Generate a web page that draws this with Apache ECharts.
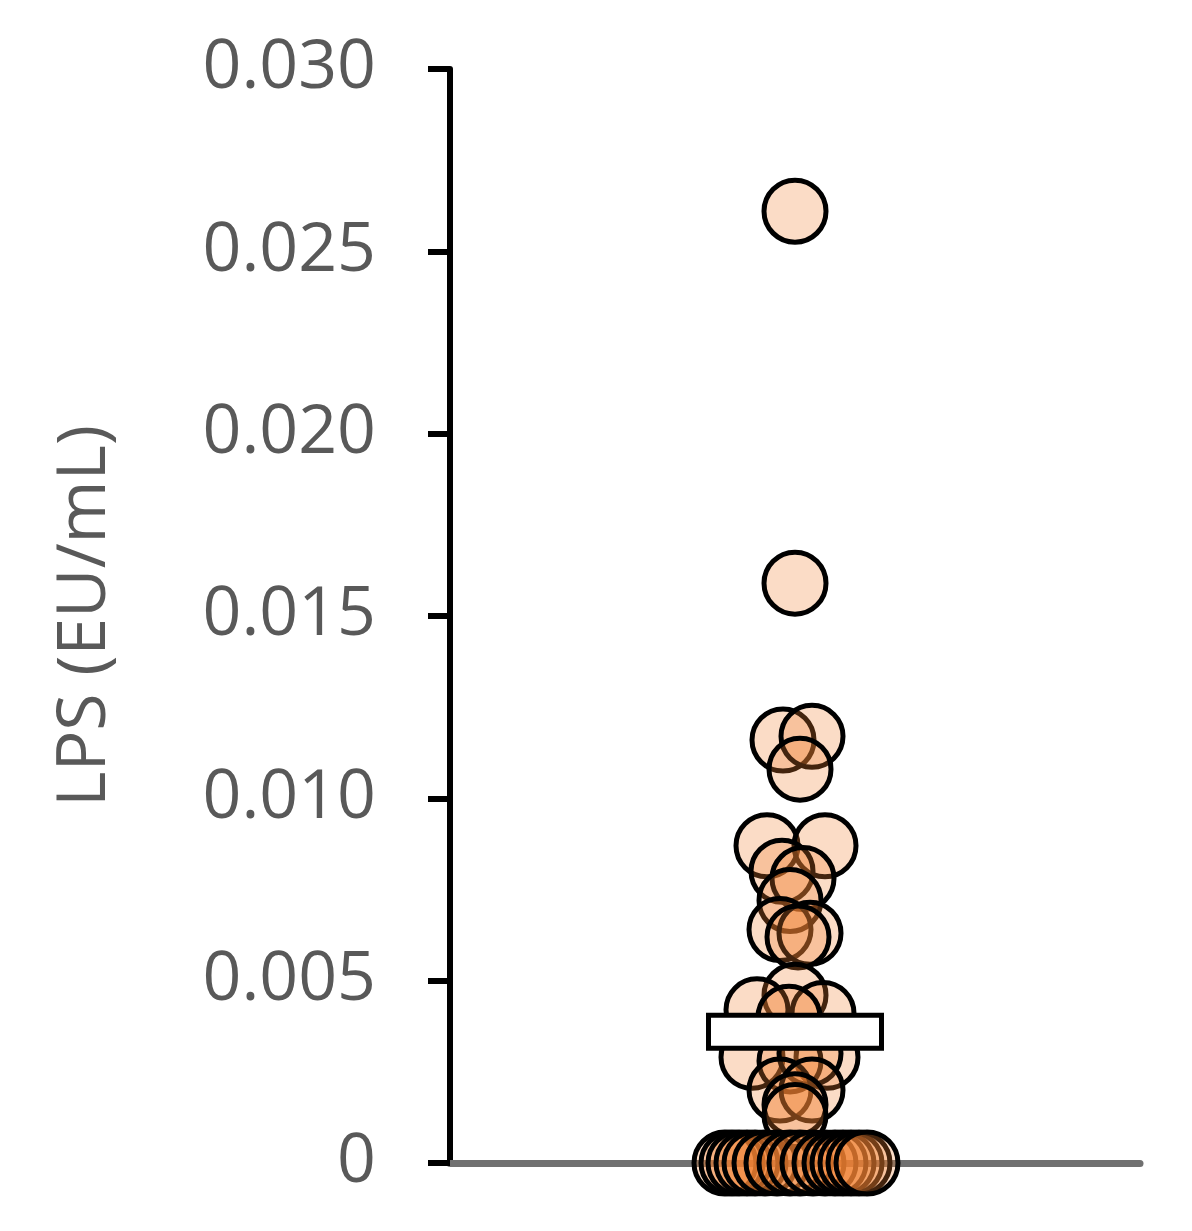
<!DOCTYPE html>
<html>
<head>
<meta charset="utf-8">
<script src="https://cdn.jsdelivr.net/npm/echarts@6/dist/echarts.min.js"></script>
<style>
html,body{margin:0;padding:0;background:#fff;}
#chart{width:1192px;height:1231px;}
</style>
</head>
<body>
<div id="chart"></div>
<script>
// LPS values (EU/mL)
var lpsValues = [
  0.0261, 0.0159,
  0.0116, 0.0117, 0.0108,
  0.0087, 0.0087, 0.0080, 0.0078, 0.0072,
  0.0064, 0.0063, 0.0062,
  0.0046, 0.0042, 0.0041, 0.0040,
  0.0029, 0.0029, 0.0028, 0.0030,
  0.0020, 0.0020, 0.0016, 0.0013,
  0, 0, 0, 0, 0, 0, 0, 0, 0, 0, 0, 0, 0, 0, 0, 0
];
// horizontal jitter of each dot (arbitrary units, category centre = 0)
var jitter = [
  0, 0,
  -12, 17, 5,
  -28, 30, -13, 8, -5,
  -15, 15, 3,
  0, -38, 28, -6,
  -43, 32, -5, 15,
  -15, 17, 0, 0,
  -70, -63, -56, -48, -40, -30, -18, -5, 5, 18, 30, 40, 48, 56, 64, 72
];
var meanValue = 0.0036;
var yTicks = [0, 0.005, 0.010, 0.015, 0.020, 0.025, 0.030];
var yTitle = 'LPS (EU/mL)';

var points = lpsValues.map(function (v, i) { return [jitter[i], v]; });

var chart = echarts.init(document.getElementById('chart'), null, {renderer: 'canvas'});
chart.setOption({
  animation: false,
  backgroundColor: '#ffffff',
  grid: {left: 450, right: 52, top: 69, bottom: 68, containLabel: false},
  xAxis: {
    type: 'value', min: -345, max: 345,
    axisLine: {show: true, onZero: false, lineStyle: {color: '#707070', width: 7}},
    axisTick: {show: false}, axisLabel: {show: false}, splitLine: {show: false}
  },
  yAxis: {
    type: 'value', min: yTicks[0], max: yTicks[yTicks.length - 1], interval: 0.005,
    name: yTitle, nameLocation: 'middle', nameGap: 330, nameRotate: 90,
    nameTextStyle: {fontFamily: 'Open Sans', fontSize: 68, color: '#595959'},
    axisLine: {show: true, onZero: false, lineStyle: {color: '#000', width: 6}},
    axisTick: {show: true, inside: false, length: 22, lineStyle: {color: '#000', width: 6}},
    axisLabel: {
      margin: 74, fontFamily: 'Open Sans', fontSize: 68, color: '#595959',
      formatter: function (v) { return v === 0 ? '0' : v.toFixed(3); }
    },
    splitLine: {show: false}
  },
  series: [
    {
      type: 'scatter', data: points, symbol: 'circle', symbolSize: 62,
      itemStyle: {color: 'rgba(240,130,50,0.28)', borderColor: '#000', borderWidth: 5, opacity: 1},
      z: 2
    },
    {
      type: 'custom', data: [[0, meanValue]], z: 5,
      renderItem: function (params, api) {
        var c = api.coord([api.value(0), api.value(1)]);
        var w = 173, h = 33;
        return {
          type: 'rect',
          shape: {x: c[0] - w / 2, y: c[1] - h / 2, width: w, height: h},
          style: {fill: '#ffffff', stroke: '#000', lineWidth: 5}
        };
      }
    }
  ]
});
</script>
</body>
</html>
